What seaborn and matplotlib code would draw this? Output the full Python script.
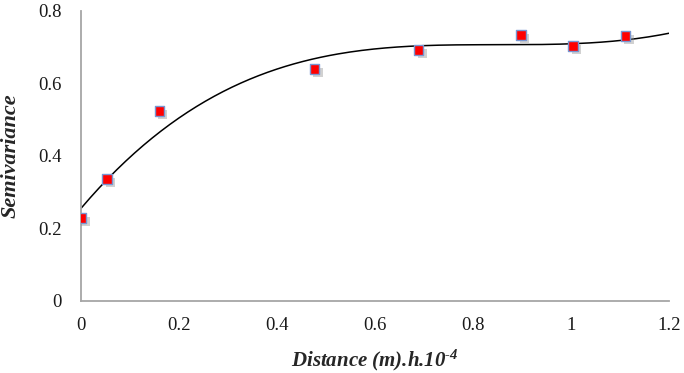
import numpy as np
import pandas as pd
import matplotlib
matplotlib.use("Agg")
import matplotlib.pyplot as plt
import matplotlib.patheffects as pe
import seaborn as sns

# values
distance = [0.0, 0.052, 0.159, 0.476, 0.689, 0.898, 1.004, 1.111]
semivariance = [0.228, 0.336, 0.523, 0.639, 0.692, 0.733, 0.703, 0.731]
# cubic trendline as it appears in the chart (x^3, x^2, x, 1)
trend_coef = [0.733, -1.869, 1.589, 0.256]
x_ticks = [0, 0.2, 0.4, 0.6, 0.8, 1, 1.2]
y_ticks = [0, 0.2, 0.4, 0.6, 0.8]

sns.set_style("white")
plt.rcParams["font.family"] = ["Liberation Serif", "DejaVu Serif"]
plt.rcParams["mathtext.fontset"] = "custom"
plt.rcParams["mathtext.rm"] = "Liberation Serif:bold:italic"
plt.rcParams["mathtext.it"] = "Liberation Serif:bold:italic"

df = pd.DataFrame({"x": distance, "y": semivariance})
xs = np.linspace(0, 1.2, 200)
trend = pd.DataFrame({"x": xs, "y": np.polyval(trend_coef, xs)})

fig = plt.figure(figsize=(6.84, 3.73), dpi=100)
ax = fig.add_axes([0.119, 0.194, 0.859, 0.777])

sns.lineplot(data=trend, x="x", y="y", color="black", linewidth=1.1, ax=ax)
pts = sns.scatterplot(data=df, x="x", y="y", marker="s", s=46, color="#ff0000",
                      edgecolor="#7896d2", linewidth=1.0, zorder=5, ax=ax)
pts.collections[-1].set_path_effects([
    pe.SimplePatchShadow(offset=(2.5, -2.5), shadow_rgbFace="#8c8c8c", alpha=0.4),
    pe.Normal()])

ax.set_xlim(0, 1.2)
ax.set_ylim(0, 0.8)
ax.set_xticks(x_ticks)
ax.set_yticks(y_ticks)
ax.set_xticklabels([f"{t:g}" for t in x_ticks])
ax.set_yticklabels([f"{t:g}" for t in y_ticks])

for s in ["top", "right"]:
    ax.spines[s].set_visible(False)
for s in ["left", "bottom"]:
    ax.spines[s].set_color("#a6a6a6")
    ax.spines[s].set_linewidth(1.3)
ax.tick_params(axis="both", direction="out", length=4, width=1.1, color="#a6a6a6",
               labelsize=13.5, labelcolor="#1a1a1a")
ax.tick_params(axis="x", pad=8)
ax.tick_params(axis="y", pad=10)

ax.set_xlabel(r"Distance (m).h.10$^{\mathrm{\u2010}4}$".replace(r"\u2010", "\u2010"),
              fontsize=15, fontweight="bold", fontstyle="italic")
ax.set_ylabel("Semivariance", fontsize=16, fontweight="bold", fontstyle="italic")
ax.xaxis.set_label_coords(0.5, -0.205)
ax.xaxis.label.set_va("center")
ax.yaxis.set_label_coords(-0.12, 0.5)
ax.yaxis.label.set_va("center")

fig.savefig("out.png", dpi=100)
